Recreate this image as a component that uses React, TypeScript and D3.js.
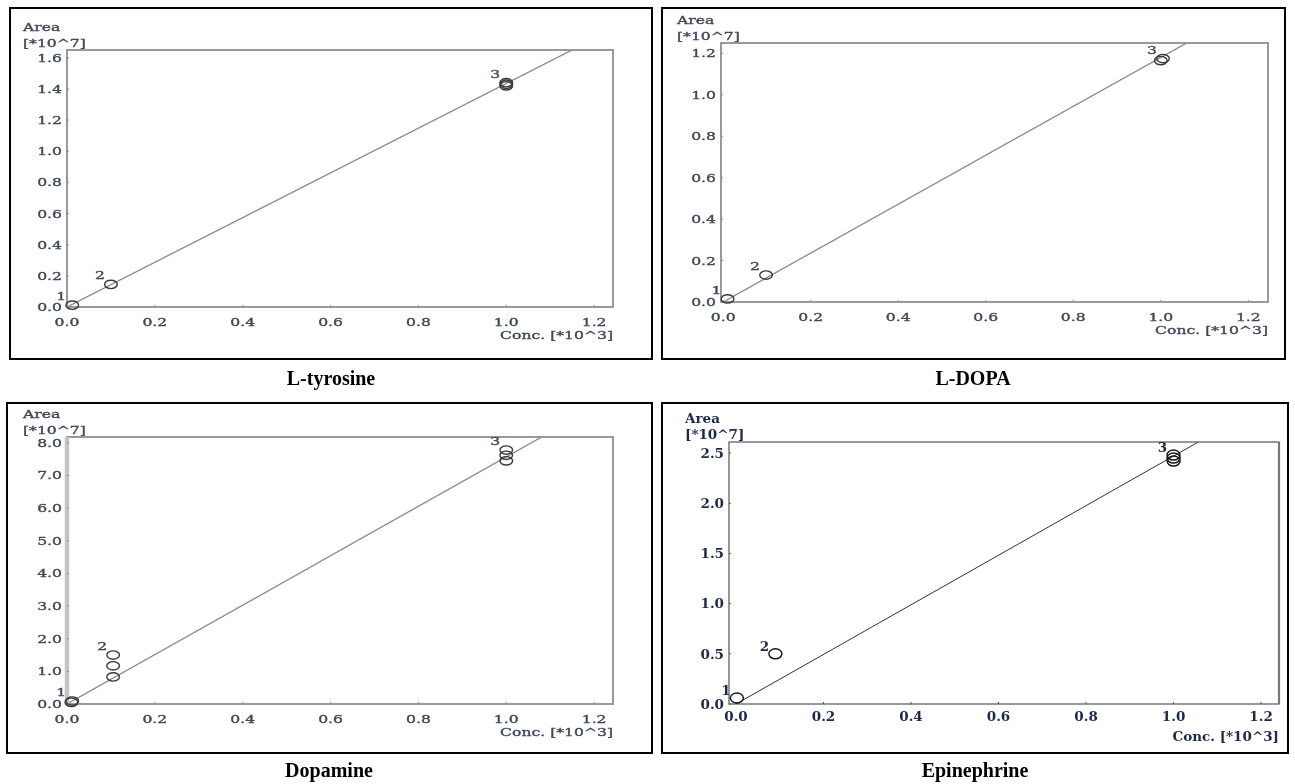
import React from "react";
import * as d3 from "d3";

// ---------- data ----------
const compounds = ["L-tyrosine", "L-DOPA", "Dopamine", "Epinephrine"];
const xTickValues = [0, 0.2, 0.4, 0.6, 0.8, 1.0, 1.2];
const yTicksTyrosine = [0, 0.2, 0.4, 0.6, 0.8, 1.0, 1.2, 1.4, 1.6];
const yTicksDopa = [0, 0.2, 0.4, 0.6, 0.8, 1.0, 1.2];
const yTicksDopamine = [0, 1, 2, 3, 4, 5, 6, 7, 8];
const yTicksEpinephrine = [0, 0.5, 1.0, 1.5, 2.0, 2.5];

const tyrosineLevel = [1, 2, 3, 3, 3];
const tyrosineConc = [0.012, 0.1, 1.0, 1.0, 1.0];
const tyrosineArea = [0.012, 0.145, 1.42, 1.43, 1.44];

const dopaLevel = [1, 2, 3, 3];
const dopaConc = [0.01, 0.098, 1.0, 1.005];
const dopaArea = [0.015, 0.13, 1.165, 1.175];

const dopamineLevel = [1, 1, 2, 2, 2, 3, 3, 3];
const dopamineConc = [0.01, 0.012, 0.105, 0.105, 0.105, 1.0, 1.0, 1.0];
const dopamineArea = [0.05, 0.09, 0.83, 1.17, 1.5, 7.45, 7.62, 7.78];

const epinephrineLevel = [1, 2, 3, 3, 3];
const epinephrineConc = [0.002, 0.09, 1.0, 1.0, 1.0];
const epinephrineArea = [0.06, 0.5, 2.42, 2.45, 2.48];

const fitSlope = [1.435, 1.18, 7.57, 2.47];
const fitIntercept = [0, 0, 0, 0];

const xAxisTitle = "Conc. [*10^3]";
const yAxisTitle1 = "Area";
const yAxisTitle2 = "[*10^7]";

// ---------- layout (positions / styles) ----------
type Layout = {
  border: [number, number, number, number];
  plot: [number, number, number, number];
  xDomain: [number, number];
  yDomain: [number, number];
  captionX: number;
  captionY: number;
  crisp: boolean;
  thickLeft?: boolean;
};

const layouts: Layout[] = [
  { border: [10, 8, 642, 351], plot: [67, 50, 613, 307], xDomain: [0, 1.243], yDomain: [0, 1.65], captionX: 331, captionY: 385, crisp: false },
  { border: [662, 8, 623, 351], plot: [721, 43, 1268, 302], xDomain: [-0.005, 1.245], yDomain: [0, 1.25], captionX: 973, captionY: 385, crisp: false },
  { border: [7, 403, 645, 350], plot: [67, 437, 613, 704], xDomain: [0, 1.243], yDomain: [0, 8.18], captionX: 329, captionY: 777, crisp: false, thickLeft: true },
  { border: [662, 403, 626, 350], plot: [729, 442, 1279, 704], xDomain: [-0.016, 1.241], yDomain: [0, 2.61], captionX: 975, captionY: 777, crisp: true },
];

const yTickSets = [yTicksTyrosine, yTicksDopa, yTicksDopamine, yTicksEpinephrine];
const levelSets = [tyrosineLevel, dopaLevel, dopamineLevel, epinephrineLevel];
const concSets = [tyrosineConc, dopaConc, dopamineConc, epinephrineConc];
const areaSets = [tyrosineArea, dopaArea, dopamineArea, epinephrineArea];

const fmt = d3.format(".1f");

function Panel({ i }: { i: number }) {
  const L = layouts[i];
  const [l, t, r, b] = L.plot;
  const x = d3.scaleLinear().domain(L.xDomain).range([l, r]);
  const y = d3.scaleLinear().domain(L.yDomain).range([b, t]);
  const crisp = L.crisp;
  const textFill = crisp ? "#1e2a48" : "#3f475a";
  const fontFamily = "DejaVu Serif";
  const fontSize = crisp ? 13.5 : 11;
  const fontWeight = crisp ? "bold" : "normal";
  const sx = crisp ? 1 : 1.42;
  const boxStroke = crisp ? "#555" : "#8f8f8f";
  const boxWidth = crisp ? 1.2 : 1.8;
  const lineStroke = crisp ? "#333" : "#8a8a8a";
  const circStroke = crisp ? "#111" : "#3a3a3a";
  const rx = crisp ? 6.5 : 6.3;
  const ry = crisp ? 5 : 4.2;

  const T = (props: { x: number; y: number; anchor?: string; children: any; size?: number; fill?: string }) => (
    <text
      transform={`translate(${props.x},${props.y}) scale(${sx},1)`}
      textAnchor={props.anchor || "start"}
      fontFamily={fontFamily}
      fontSize={props.size || fontSize}
      fontWeight={fontWeight}
      fill={props.fill || textFill}
      stroke={crisp ? "none" : textFill}
      strokeWidth={crisp ? 0 : 0.35}
    >
      {props.children}
    </text>
  );

  const levels = levelSets[i];
  const conc = concSets[i];
  const area = areaSets[i];
  const pts = levels.map((lv, k) => ({ lv, c: conc[k], a: area[k] }));
  const labelPts = d3.groups(pts, (p) => p.lv).map(([lv, arr]) => {
    const top = arr.reduce((m, p) => (p.a > m.a ? p : m), arr[0]);
    return { lv, c: top.c, a: top.a };
  });

  const fitLine = d3
    .line<number>()
    .x((c) => x(c))
    .y((c) => y(fitIntercept[i] + fitSlope[i] * c));
  const clipId = `clip${i}`;

  const [bx, by, bw, bh] = L.border;

  return (
    <g>
      <rect x={bx} y={by} width={bw} height={bh} fill="none" stroke="#000" strokeWidth={2} />
      <clipPath id={clipId}>
        <rect x={l} y={t} width={r - l} height={b - t} />
      </clipPath>
      <g filter={crisp ? undefined : "url(#soft)"}>
        <path d={fitLine([Math.max(0, L.xDomain[0]), L.xDomain[1]]) || ""} fill="none" stroke={lineStroke} strokeWidth={crisp ? 1 : 1.3} clipPath={`url(#${clipId})`} />
        <rect x={l} y={t} width={r - l} height={b - t} fill="none" stroke={boxStroke} strokeWidth={boxWidth} />
        {crisp && <line x1={r} x2={r} y1={t} y2={b} stroke="#777" strokeWidth={2.2} />}
        {L.thickLeft && <line x1={l} x2={l} y1={t} y2={b} stroke="#c4c4c4" strokeWidth={4.5} />}
        {yTickSets[i].map((v) => (
          <g key={"y" + v}>
            <line x1={l} x2={l + 2} y1={y(v)} y2={y(v)} stroke={boxStroke} strokeWidth={1} />
            <T x={l - 5} y={y(v) + fontSize * 0.36} anchor="end">{fmt(v)}</T>
          </g>
        ))}
        {xTickValues.map((v) => (
          <g key={"x" + v}>
            <line x1={x(v)} x2={x(v)} y1={b} y2={b - 2} stroke={boxStroke} strokeWidth={1} />
            <T x={x(v)} y={b + (crisp ? 17 : 19)} anchor="middle">{fmt(v)}</T>
          </g>
        ))}
        {pts.map((p, k) => (
          <ellipse key={"p" + k} cx={x(p.c)} cy={y(p.a)} rx={rx} ry={ry} fill="none" stroke={circStroke} strokeWidth={crisp ? 1.4 : 1.4} />
        ))}
        {labelPts.map((p) => (
          <T key={"l" + p.lv} x={x(p.c) - 11} y={y(p.a) - (crisp ? 3 : 5)} anchor="middle" size={crisp ? 13.5 : 11}>
            {String(p.lv)}
          </T>
        ))}
        <T x={l - 44} y={t - 19}>{yAxisTitle1}</T>
        <T x={l - 44} y={t - 3}>{yAxisTitle2}</T>
        <T x={r} y={b + (crisp ? 37 : 32)} anchor="end">{xAxisTitle}</T>
      </g>
      <text x={L.captionX} y={L.captionY} textAnchor="middle" fontFamily="Liberation Serif" fontWeight="bold" fontSize={20} fill="#000">
        {compounds[i]}
      </text>
    </g>
  );
}

export default function App() {
  return (
    <div style={{ position: "absolute", left: 0, top: 0 }}>
      <svg width={1295} height={784} style={{ display: "block", background: "#fff" }}>
        <defs>
          <filter id="soft" x="-5%" y="-5%" width="110%" height="110%">
            <feGaussianBlur stdDeviation="0.5" />
          </filter>
        </defs>
        {compounds.map((_, i) => (
          <Panel key={i} i={i} />
        ))}
      </svg>
    </div>
  );
}
